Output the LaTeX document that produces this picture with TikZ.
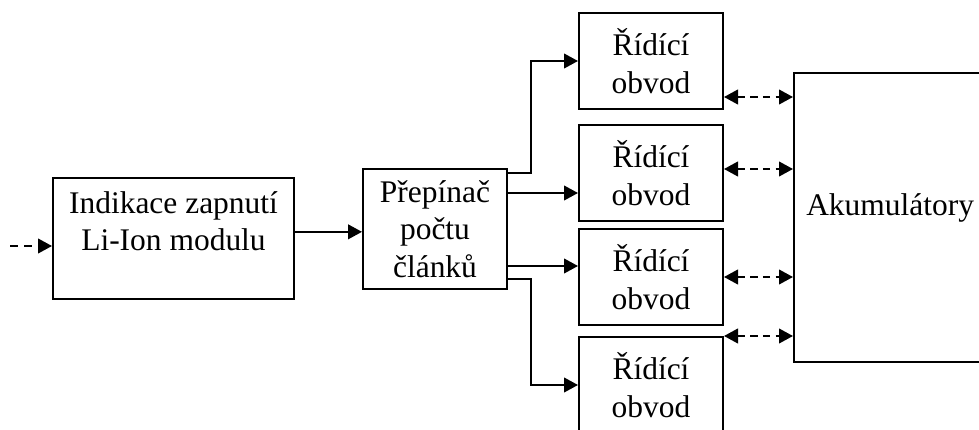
\documentclass[tikz,border=0pt]{standalone}
\usepackage{fontspec}
\setmainfont{Liberation Serif}
\usetikzlibrary{arrows.meta,positioning}

\begin{document}
\begin{tikzpicture}
[
	x=0.75pt,
	y=-0.75pt,
	blok/.style={draw, line width=1.5pt, inner sep=0pt, align=center, font=\fontsize{23.6pt}{28pt}\selectfont},
	popis/.style={inner sep=0pt, align=center, font=\fontsize{23.6pt}{28pt}\selectfont},
	ridici/.style={blok, minimum width=108pt, minimum height=72pt},
	sipka/.style={line width=1.5pt, -{Triangle[length=10.5pt,width=11pt]}},
	carkovana/.style={sipka, dash pattern=on 6pt off 4.5pt},
	obousmer/.style={line width=1.5pt, dash pattern=on 5.5pt off 4pt, {Triangle[length=10.5pt,width=11pt]}-{Triangle[length=10.5pt,width=11pt]}}
]

	\useasboundingbox (0,0) rectangle (979,429);
	\clip (0,0) rectangle (979,429);

	% bloky
	\node[blok, minimum width=180.75pt, minimum height=90.75pt] at (173.5,238.5) (ind) {};
	\node[popis] at ([yshift=13pt]ind.center) (indtext) {Indikace zapnutí\\Li-Ion modulu};
	\node[blok, minimum width=108pt, minimum height=90pt] at (435,229) (prep) {Přepínač\\počtu\\článků};

	\node[ridici] at (651,61) (r1) {Řídící\\obvod};
	\node[ridici] at (651,173) (r2) {Řídící\\obvod};
	\node[ridici] at (651,277) (r3) {Řídící\\obvod};
	\node[ridici] at (651,385) (r4) {Řídící\\obvod};

	\node[blok, minimum width=154.5pt, minimum height=216.75pt] at (897,217.5) (akum) {};
	\node[popis, anchor=west] at ([xshift=9.75pt, yshift=7.5pt]akum.west) (akumtext) {Akumulátory};

	% vstup
	\coordinate (vstup) at (10,246);
	\draw[carkovana] (vstup) -- (vstup -| ind.west);

	\coordinate (i1) at ([yshift=5pt]ind.east);
	\draw[sipka] (i1) -- (i1 -| prep.west);

	% prepinac -> ridici obvody
	\draw[sipka] ([yshift=-3.75pt]prep.north east) -- ++(23,0) |- (r1.west);
	\coordinate (p2) at ([yshift=27pt]prep.east);
	\draw[sipka] (p2) -- (p2 -| r2.west);
	\coordinate (p3) at ([yshift=-27.75pt]prep.east);
	\draw[sipka] (p3) -- (p3 -| r3.west);
	\draw[sipka] ([yshift=8.25pt]prep.south east) -- ++(23,0) |- (r4.west);

	% ridici obvody <-> akumulatory
	\coordinate (o1) at ([yshift=-27pt]r1.east);
	\draw[obousmer] (o1) -- (o1 -| akum.west);
	\coordinate (o2) at ([yshift=3pt]r2.east);
	\draw[obousmer] (o2) -- (o2 -| akum.west);
	\coordinate (o3) at (r3.east);
	\draw[obousmer] (o3) -- (o3 -| akum.west);
	\coordinate (o4) at (r4.north east);
	\draw[obousmer] (o4) -- (o4 -| akum.west);

\end{tikzpicture}
\end{document}
